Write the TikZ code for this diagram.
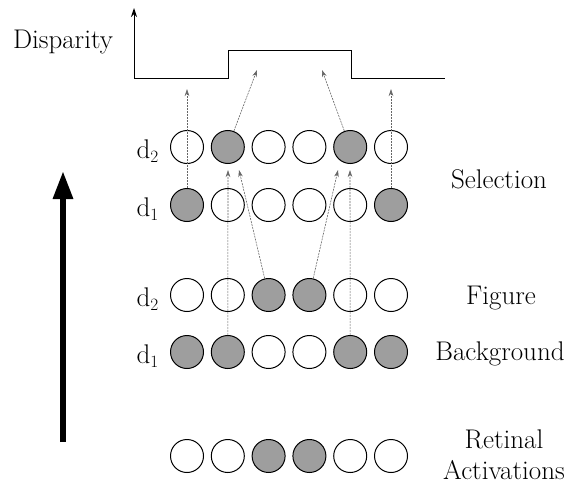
\documentclass[tikz,border=0pt]{standalone}
\usetikzlibrary{arrows.meta}
\begin{document}
\begin{tikzpicture}[x=1pt,y=-1pt,
  unit/.style={circle,draw=black,line width=1pt,minimum size=33pt,inner sep=0pt},
  on/.style={unit,fill=black!38},
  off/.style={unit,fill=white},
  lbl/.style={font=\fontsize{27}{31}\selectfont,inner sep=0pt},
  link/.style={draw=black!60,line width=0.6pt,dash pattern=on 2pt off 1pt,
    -{Stealth[length=7pt,width=4.5pt]}},
  axis/.style={line width=1pt},
]
\useasboundingbox (0,0) rectangle (572,487);

% units
\foreach \i/\s in {1/off,2/on,3/off,4/off,5/on,6/off}
  \node[\s] (s2-\i) at ({187+40.8*(\i-1)},147) {};
\foreach \i/\s in {1/on,2/off,3/off,4/off,5/off,6/on}
  \node[\s] (s1-\i) at ({187+40.8*(\i-1)},205) {};
\foreach \i/\s in {1/off,2/off,3/on,4/on,5/off,6/off}
  \node[\s] (f2-\i) at ({187+40.8*(\i-1)},295) {};
\foreach \i/\s in {1/on,2/on,3/off,4/off,5/on,6/on}
  \node[\s] (f1-\i) at ({187+40.8*(\i-1)},352) {};
\foreach \i/\s in {1/off,2/off,3/on,4/on,5/off,6/off}
  \node[\s] (r-\i) at ({187+40.8*(\i-1)},456) {};

% disparity plot
\coordinate (o) at (134,78);
\coordinate (ytop) at (134,8);
\coordinate (u1) at (228,78);
\coordinate (u2) at (228,51);
\coordinate (u3) at (351,51);
\coordinate (u4) at (351,78);
\coordinate (xend) at (445,78);
\draw[axis,-{Stealth[length=9pt,width=6pt]}] (o) -- (ytop);
\draw[axis] (o) -- (u1) -- (u2) -- (u3) -- (u4) -- (xend);

% selection -> disparity
\coordinate (t1) at (187,89);
\coordinate (t2) at (257,70);
\coordinate (t3) at (322,70);
\coordinate (t4) at (391,89);
\draw[link] (s1-1) -- (t1);
\draw[link] (s2-2) -- (t2);
\draw[link] (s2-5) -- (t3);
\draw[link] (s1-6) -- (t4);

% figure/background -> selection
\coordinate (b1) at (228,170);
\coordinate (b2) at (239,170);
\coordinate (b3) at (338,170);
\coordinate (b4) at (350,170);
\draw[link] (f1-2) -- (b1);
\draw[link] (f2-3) -- (b2);
\draw[link] (f2-4) -- (b3);
\draw[link] (f1-5) -- (b4);

% big arrow
\coordinate (ab) at (63,442);
\coordinate (at) at (63,171);
\draw[line width=6pt,-{Triangle[length=28pt,width=19pt]}] (ab) -- (at);

% labels
\node[lbl] (disp) at (63,42) {Disparity};
\node[lbl,anchor=east] (ls2) at (159,151) {d$_2$};
\node[lbl,anchor=east] (ls1) at (159,209) {d$_1$};
\node[lbl,anchor=east] (lf2) at (159,299) {d$_2$};
\node[lbl,anchor=east] (lf1) at (159,356) {d$_1$};
\node[lbl] (sel) at (499,179) {Selection};
\node[lbl] (fig) at (501,298) {Figure};
\node[lbl] (bg) at (500,354) {Background};
\node[lbl,align=center] (ret) at (504,455) {Retinal\\Activations};
\end{tikzpicture}
\end{document}
